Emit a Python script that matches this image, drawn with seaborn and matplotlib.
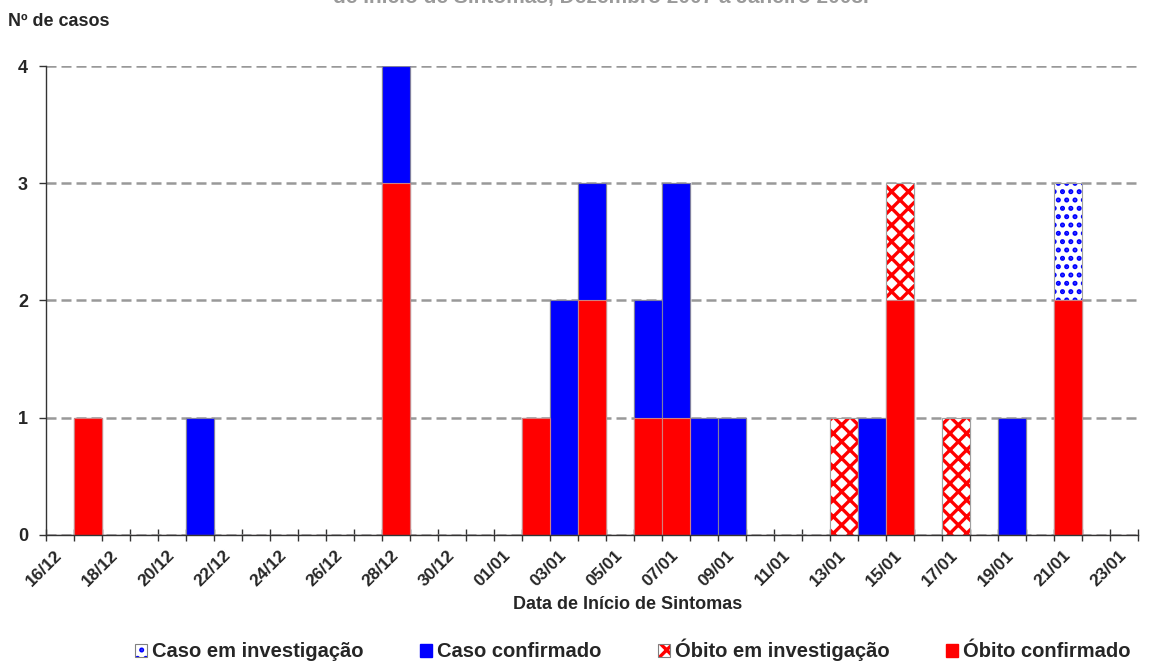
import numpy as np
import matplotlib
matplotlib.use("Agg")
import matplotlib.pyplot as plt
from matplotlib.patches import Patch
from matplotlib.legend_handler import HandlerTuple
import seaborn as sns
import pandas as pd

# dias de início de sintomas (16/12/2007 a 23/01/2008)
dates = [
    "16/12", "17/12", "18/12", "19/12", "20/12", "21/12", "22/12", "23/12",
    "24/12", "25/12", "26/12", "27/12", "28/12", "29/12", "30/12", "31/12",
    "01/01", "02/01", "03/01", "04/01", "05/01", "06/01", "07/01", "08/01",
    "09/01", "10/01", "11/01", "12/01", "13/01", "14/01", "15/01", "16/01",
    "17/01", "18/01", "19/01", "20/01", "21/01", "22/01", "23/01",
]
tick_labels = dates[::2]

obito_confirmado = [0, 1, 0, 0, 0, 0, 0, 0, 0, 0, 0, 0, 3, 0, 0, 0,
                    0, 1, 0, 2, 0, 1, 1, 0, 0, 0, 0, 0, 0, 0, 2, 0,
                    0, 0, 0, 0, 2, 0, 0]
caso_confirmado = [0, 0, 0, 0, 0, 1, 0, 0, 0, 0, 0, 0, 1, 0, 0, 0,
                   0, 0, 2, 1, 0, 1, 2, 1, 1, 0, 0, 0, 0, 1, 0, 0,
                   0, 0, 1, 0, 0, 0, 0]
obito_investigacao = [0, 0, 0, 0, 0, 0, 0, 0, 0, 0, 0, 0, 0, 0, 0, 0,
                      0, 0, 0, 0, 0, 0, 0, 0, 0, 0, 0, 0, 1, 0, 1, 0,
                      1, 0, 0, 0, 0, 0, 0]
caso_investigacao = [0, 0, 0, 0, 0, 0, 0, 0, 0, 0, 0, 0, 0, 0, 0, 0,
                     0, 0, 0, 0, 0, 0, 0, 0, 0, 0, 0, 0, 0, 0, 0, 0,
                     0, 0, 0, 0, 1, 0, 0]

sns.set_style("white")
plt.rcParams["font.family"] = ["Liberation Sans", "DejaVu Sans"]
plt.rcParams["font.weight"] = "bold"
plt.rcParams["hatch.linewidth"] = 2.4

RED = "#ff0000"
BLUE = "#0000ff"

df = pd.DataFrame({
    "data": dates,
    "obito_conf": obito_confirmado,
    "caso_conf": caso_confirmado,
    "obito_inv": obito_investigacao,
    "caso_inv": caso_investigacao,
})
# empilhamento: óbito confirmado embaixo, caso em investigação no topo
df["s1"] = df["obito_conf"]
df["s2"] = df["s1"] + df["caso_conf"]
df["s3"] = df["s2"] + df["obito_inv"]
df["s4"] = df["s3"] + df["caso_inv"]

fig = plt.figure(figsize=(11.57, 6.66), dpi=100)
ax = fig.add_axes([0.0398, 0.1967, 0.9438, 0.7042])

common = dict(data=df, x="data", order=dates, width=1.0, saturation=1,
              ax=ax, errorbar=None)
sns.barplot(y="s4", color="white", edgecolor=BLUE, hatch="..",
            linewidth=0, **common)
sns.barplot(y="s4", fill=False, edgecolor="#a0a0a0", linewidth=0.8, **common)
sns.barplot(y="s3", color="white", edgecolor=RED, hatch="xx",
            linewidth=0, **common)
sns.barplot(y="s3", fill=False, edgecolor="#a0a0a0", linewidth=0.8, **common)
sns.barplot(y="s2", color=BLUE, edgecolor="#8080a0", linewidth=0.8, **common)
sns.barplot(y="s1", color=RED, edgecolor="#d08080", linewidth=0.8, **common)

ax.set_xlim(-0.5, len(dates) - 0.5)
ax.set_ylim(0, 4)
ax.set_yticks(range(5))
ax.set_yticklabels([str(v) for v in range(5)], fontsize=13, fontweight="bold")
ax.yaxis.grid(True, color="#999999", linestyle=(0, (4, 2)), linewidth=1.8)
ax.set_axisbelow(True)
ax.tick_params(axis="y", left=True, length=5, width=1, pad=8, color="#333333")

# marcas entre categorias, rótulos no centro de dias alternados
ax.set_xticks(np.arange(-0.5, len(dates), 1.0))
ax.set_xticklabels([])
ax.tick_params(axis="x", which="major", bottom=True, direction="inout",
               length=8, width=1, color="#333333")
ax.set_xticks(np.arange(0, len(dates), 2), tick_labels, minor=True)
ax.tick_params(axis="x", which="minor", length=0, pad=13)
for lbl in ax.get_xticklabels(minor=True):
    lbl.set_rotation(45)
    lbl.set_ha("right")
    lbl.set_va("center")
    lbl.set_rotation_mode("anchor")
    lbl.set_fontsize(12.5)
    lbl.set_fontweight("bold")

for side in ["top", "right"]:
    ax.spines[side].set_visible(False)
for side in ["left", "bottom"]:
    ax.spines[side].set_color("#333333")
    ax.spines[side].set_linewidth(1)

ax.set_ylabel("")
ax.set_xlabel("Data de Início de Sintomas", fontsize=13, fontweight="bold",
              va="center")
ax.xaxis.set_label_coords(0.533, -0.149)

fig.text(8 / 1157, 1 - 21 / 666, "Nº de casos", fontsize=13,
         fontweight="bold", va="center", ha="left")
fig.text(601 / 1157, 1 - 3 / 666,
         "de Início de Sintomas, Dezembro 2007 a Janeiro 2008.",
         fontsize=15, fontweight="bold", color="#9a9a9a",
         ha="center", va="baseline")

outline = dict(fill=False, edgecolor="#808080", linewidth=0.8)
handles = [
    (Patch(facecolor="white", edgecolor=BLUE, hatch="..", linewidth=0),
     Patch(**outline)),
    Patch(facecolor=BLUE, edgecolor=BLUE),
    (Patch(facecolor="white", edgecolor=RED, hatch="xx", linewidth=0),
     Patch(**outline)),
    Patch(facecolor=RED, edgecolor=RED),
]
labels = ["Caso em investigação", "Caso confirmado",
          "Óbito em investigação", "Óbito confirmado"]
fig.legend(handles, labels, loc="center", bbox_to_anchor=(0.547, 0.024),
           ncol=4, frameon=False, handlelength=0.6,
           handleheight=0.6, handletextpad=0.25, columnspacing=2.8,
           handler_map={tuple: HandlerTuple(ndivide=1)},
           prop={"weight": "bold", "size": 14.5})

fig.savefig("out.png", dpi=100)
